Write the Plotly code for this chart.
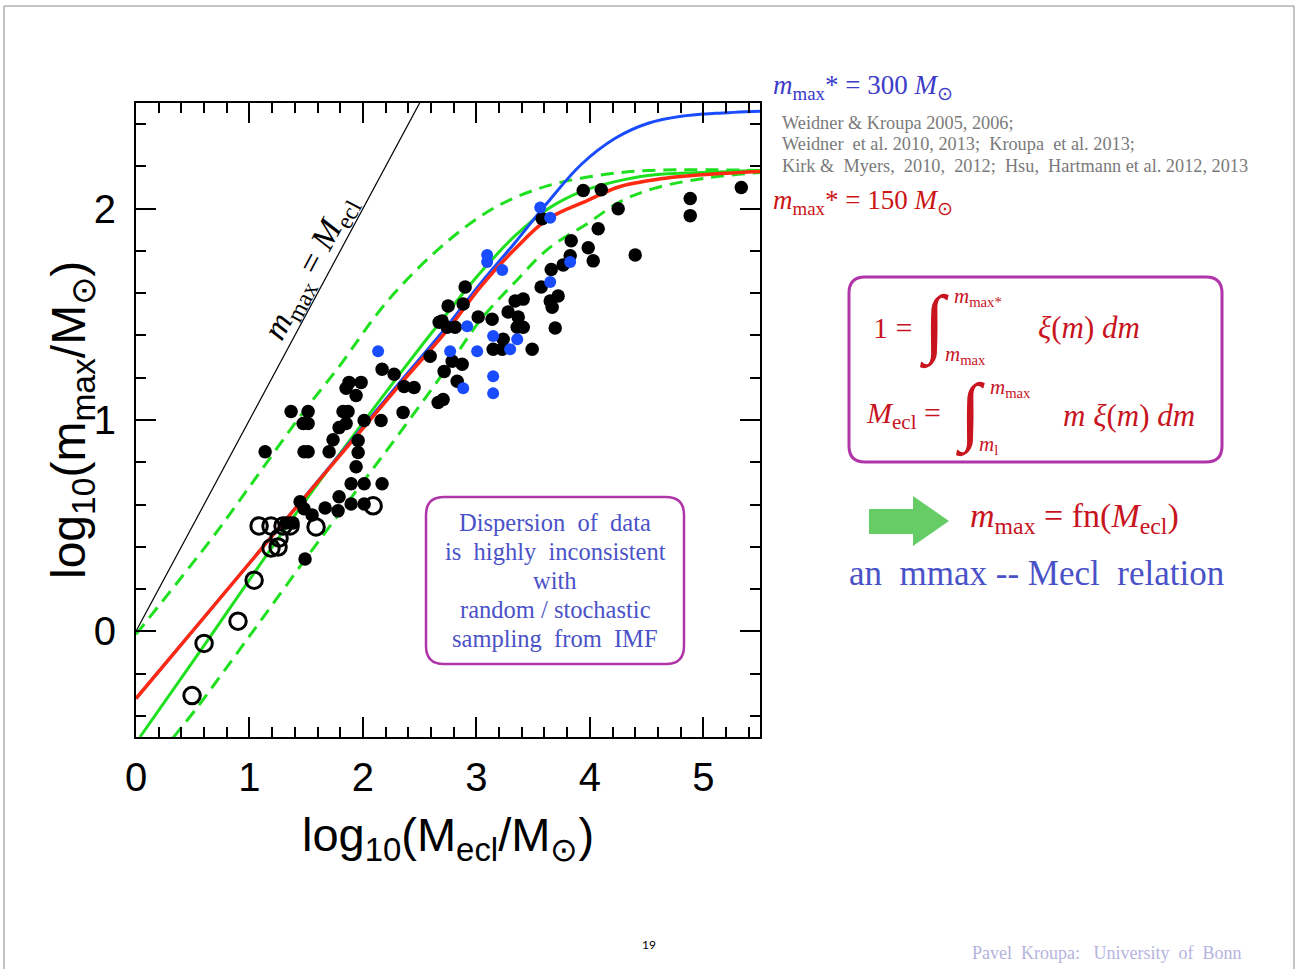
import plotly.graph_objects as go

# ---------------- data ----------------
# filled black points: log10(Mecl), log10(mmax)
black_x = [1.138, 1.367, 1.517, 1.473, 1.517, 1.481, 1.517, 1.702, 1.737, 1.790,
           1.852, 1.825, 1.869, 1.852, 1.878, 1.984, 1.940, 2.011, 2.160, 1.958,
           1.958, 1.940, 1.896, 2.011, 2.169, 1.790, 1.896, 2.011, 1.781, 1.667,
           1.446, 1.481, 1.552, 1.490, 1.384, 1.323, 2.169, 2.275, 2.354, 2.363,
           2.451, 2.663, 2.707, 2.593, 2.751, 2.672, 2.716, 2.831, 2.787, 2.875,
           2.901, 2.884, 2.698, 2.743, 2.813, 3.016, 3.139, 3.148, 3.228, 3.236,
           3.492, 3.342, 3.413, 3.280, 3.369, 3.360, 3.413, 3.571, 3.651, 3.721,
           3.668, 3.695, 3.660, 3.765, 3.827, 3.836, 3.986, 4.030, 4.074, 3.942,
           4.101, 4.250, 4.400, 4.885, 4.885, 5.335, 3.580]
black_y = [0.850, 1.040, 1.040, 0.983, 0.983, 0.850, 0.850, 0.850, 0.907, 0.964,
           0.983, 1.040, 1.040, 1.150, 1.178, 1.178, 1.116, 0.998, 0.998, 0.903,
           0.846, 0.779, 0.698, 0.698, 0.698, 0.637, 0.603, 0.603, 0.570, 0.584,
           0.613, 0.580, 0.551, 0.342, 0.513, 0.513, 1.240, 1.216, 1.036, 1.159,
           1.154, 1.083, 1.097, 1.302, 1.539, 1.463, 1.230, 1.183, 1.278, 1.264,
           1.629, 1.549, 1.468, 1.439, 1.439, 1.487, 1.477, 1.335, 1.335, 1.382,
           1.335, 1.563, 1.572, 1.511, 1.487, 1.439, 1.439, 1.629, 1.563, 1.587,
           1.534, 1.435, 1.712, 1.734, 1.777, 1.848, 1.815, 1.753, 1.905, 2.086,
           2.090, 2.000, 1.781, 2.048, 1.967, 2.100, 1.952]

# filled blue points
blue_x = [2.134, 2.919, 2.769, 3.007, 3.148, 3.360, 3.298, 2.884, 3.148, 3.148,
          3.095, 3.095, 3.228, 3.827, 3.651, 3.563, 3.651]
blue_y = [1.325, 1.444, 1.325, 1.325, 1.397, 1.382, 1.335, 1.150, 1.207, 1.126,
          1.781, 1.748, 1.710, 1.748, 1.653, 2.005, 1.957]

# open circles
open_x = [1.085, 1.190, 1.296, 1.358, 1.190, 1.252, 1.261, 1.587, 2.090, 1.041,
          0.899, 0.600, 0.494]
open_y = [0.499, 0.499, 0.499, 0.499, 0.394, 0.399, 0.442, 0.494, 0.594, 0.242,
          0.048, -0.057, -0.304]

# m_max = M_ecl
ident_x = [0.0, 2.6]
ident_y = [0.0, 2.6]

# model curves (traced)
red_x = [0.0, 0.564, 1.446, 2.328, 2.751, 3.042, 3.342, 3.633, 3.977, 4.268, 4.709, 5.150, 5.5]
red_y = [-0.318, 0.043, 0.608, 1.169, 1.430, 1.634, 1.810, 1.952, 2.038, 2.105, 2.147, 2.166, 2.176]

green_x = [0.035, 0.564, 1.358, 2.302, 2.751, 3.042, 3.342, 3.633, 3.924, 4.224, 4.515, 4.974, 5.5]
green_y = [-0.500, -0.095, 0.518, 1.202, 1.511, 1.701, 1.872, 2.000, 2.081, 2.128, 2.157, 2.171, 2.181]

blue_line_x = [0.0, 0.564, 1.446, 2.328, 2.751, 3.042, 3.342, 3.633, 3.924, 4.224, 4.515, 4.806, 5.106, 5.5]
blue_line_y = [-0.318, 0.043, 0.610, 1.180, 1.450, 1.650, 1.840, 2.033, 2.209, 2.333, 2.404, 2.437, 2.451, 2.461]

upper_dash_x = [0.0, 0.679, 0.917, 1.473, 1.772, 2.231, 2.751, 3.192, 3.633, 4.074, 4.515, 5.5]
upper_dash_y = [-0.014, 0.447, 0.622, 1.036, 1.240, 1.572, 1.848, 2.014, 2.109, 2.157, 2.181, 2.181]

lower_dash_x = [0.326, 0.538, 1.005, 1.508, 1.949, 2.328, 2.751, 3.042, 3.342, 3.633, 3.977, 4.268, 4.559, 5.000, 5.5]
lower_dash_y = [-0.504, -0.361, -0.019, 0.352, 0.670, 0.941, 1.254, 1.477, 1.653, 1.810, 1.929, 2.033, 2.095, 2.143, 2.171]

x_range = [0, 5.5]
y_range = [-0.5, 2.5]

dispersion_lines = ["Dispersion\u00a0 of\u00a0 data", "is\u00a0 highly\u00a0 inconsistent", "with",
                    "random / stochastic", "sampling\u00a0 from\u00a0 IMF"]

# ---------------- layout helpers (pixel -> paper) ----------------
W, H = 1297, 969
L, R, T, B = 136, 760, 103, 737


def X(p):
    return (p - L) / (R - L)


def Y(p):
    return (B - p) / (B - T)


def rounded_rect(x0, y0, x1, y1, r):
    rx = r / (R - L)
    ry = r / (B - T)
    a, b, c, d = X(x0), X(x1), Y(y1), Y(y0)  # left, right, bottom, top
    return (f"M {a+rx},{d} L {b-rx},{d} Q {b},{d} {b},{d-ry} "
            f"L {b},{c+ry} Q {b},{c} {b-rx},{c} L {a+rx},{c} "
            f"Q {a},{c} {a},{c+ry} L {a},{d-ry} Q {a},{d} {a+rx},{d} Z")


RED = "#ff2a12"
GREEN = "#1ee01e"
BLUEL = "#1a4cff"
PURPLE = "#b035a8"
TXTBLUE = "#4a52c8"
EQRED = "#c8141e"
SERIF = "Liberation Serif"
AXFONT = "Liberation Sans"

fig = go.Figure()

fig.add_trace(go.Scatter(x=ident_x, y=ident_y, mode="lines",
                         line=dict(color="black", width=1.2), hoverinfo="skip"))
fig.add_trace(go.Scatter(x=upper_dash_x, y=upper_dash_y, mode="lines", line_shape="spline",
                         line=dict(color=GREEN, width=3, dash="13px,8px"), hoverinfo="skip"))
fig.add_trace(go.Scatter(x=lower_dash_x, y=lower_dash_y, mode="lines", line_shape="spline",
                         line=dict(color=GREEN, width=3, dash="13px,8px"), hoverinfo="skip"))
fig.add_trace(go.Scatter(x=green_x, y=green_y, mode="lines", line_shape="spline",
                         line=dict(color=GREEN, width=3), hoverinfo="skip"))
fig.add_trace(go.Scatter(x=blue_line_x, y=blue_line_y, mode="lines", line_shape="spline",
                         line=dict(color=BLUEL, width=3), hoverinfo="skip"))
fig.add_trace(go.Scatter(x=red_x, y=red_y, mode="lines", line_shape="spline",
                         line=dict(color=RED, width=3.5), hoverinfo="skip"))

fig.add_trace(go.Scatter(x=black_x, y=black_y, mode="markers",
                         marker=dict(color="black", size=13.5, line=dict(width=0))))
fig.add_trace(go.Scatter(x=blue_x, y=blue_y, mode="markers",
                         marker=dict(color=BLUEL, size=12, line=dict(width=0))))
fig.add_trace(go.Scatter(x=open_x, y=open_y, mode="markers",
                         marker=dict(symbol="circle-open", color="black", size=16.5,
                                     line=dict(width=3, color="black"))))

axis_common = dict(showline=True, linecolor="black", linewidth=2, mirror="allticks",
                   ticks="inside", ticklen=20, tickwidth=1.5, tickcolor="black",
                   showgrid=False, zeroline=False, tick0=0, dtick=1,
                   minor=dict(dtick=0.2, ticklen=10, ticks="inside", tickcolor="black",
                              tickwidth=1.5, showgrid=False),
                   tickfont=dict(family=AXFONT, size=40, color="black"))

fig.update_layout(
    width=W, height=H,
    margin=dict(l=L, r=W - R, t=T, b=H - B, pad=0),
    paper_bgcolor="white", plot_bgcolor="white",
    showlegend=False,
    xaxis=dict(range=x_range, ticklabelstandoff=4,
               title=dict(text="log<sub>10</sub>(M<sub>ecl</sub>/M<sub>⊙</sub>)",
                          font=dict(family=AXFONT, size=47, color="black"), standoff=20),
               **axis_common),
    yaxis=dict(range=y_range, ticklabelstandoff=10, **axis_common),
)

shapes = [
    dict(type="rect", xref="paper", yref="paper", x0=X(4), x1=X(1294), y0=Y(990), y1=Y(6),
         line=dict(color="#8a8a8a", width=1), fillcolor="rgba(0,0,0,0)", layer="below"),
    dict(type="path", xref="paper", yref="paper", path=rounded_rect(849, 277, 1222, 462, 16),
         line=dict(color=PURPLE, width=3), fillcolor="rgba(0,0,0,0)"),
    dict(type="path", xref="paper", yref="paper", path=rounded_rect(426, 497, 684, 664, 18),
         line=dict(color=PURPLE, width=2.5), fillcolor="rgba(255,255,255,0)"),
    dict(type="path", xref="paper", yref="paper",
         path=(f"M {X(869)},{Y(509)} L {X(913)},{Y(509)} L {X(913)},{Y(496)} "
               f"L {X(949)},{Y(521)} L {X(913)},{Y(546)} L {X(913)},{Y(534)} "
               f"L {X(869)},{Y(534)} Z"),
         line=dict(width=0), fillcolor="#66cc66"),
]

ann = []


def add(text, x, y, size, color, family=SERIF, xanchor="left", yanchor="middle", angle=0, align="left"):
    ann.append(dict(text=text, x=X(x), y=Y(y), xref="paper", yref="paper", showarrow=False,
                    xanchor=xanchor, yanchor=yanchor, textangle=angle, align=align,
                    font=dict(family=family, size=size, color=color)))


# y-axis title (placed as rotated text left of the tick labels)
add("log<sub>10</sub>(m<sub>max</sub>/M<sub>⊙</sub>)", 72, 420, 48, "black", family=AXFONT,
    xanchor="center", angle=-90)

add("<i>m</i><sub>max</sub> = <i>M</i><sub>ecl</sub>", 311, 268, 34, "black",
    xanchor="center", angle=-62)

add("<i>m</i><sub>max</sub>* = 300 <i>M</i><sub>⊙</sub>", 771, 87, 27, "#3c3cc8")
add("<i>m</i><sub>max</sub>* = 150 <i>M</i><sub>⊙</sub>", 771, 202, 27, "#cc1414")
add("Weidner &amp; Kroupa 2005, 2006;", 780, 123, 18.3, "#7a7a7a")
add("Weidner\u00a0 et al. 2010, 2013;\u00a0 Kroupa\u00a0 et al. 2013;", 780, 144, 18.3, "#7a7a7a")
add("Kirk &amp;\u00a0 Myers,\u00a0 2010,\u00a0 2012;\u00a0 Hsu,\u00a0 Hartmann et al. 2012, 2013",
    780, 166, 18.3, "#7a7a7a")

# equations in the box
add("1 =", 871, 327, 30, EQRED)
add("∫", 935, 324, 76, EQRED, xanchor="center")
add("<i>m</i><sub>max*</sub>", 952, 297, 21, EQRED)
add("<i>m</i><sub>max</sub>", 943, 355, 21, EQRED)
add("<i>ξ</i>(<i>m</i>) <i>dm</i>", 1036, 327, 31, EQRED)

add("<i>M</i><sub>ecl</sub> =", 864, 415, 30, EQRED)
add("∫", 970, 412, 76, EQRED, xanchor="center")
add("<i>m</i><sub>max</sub>", 988, 388, 21, EQRED)
add("<i>m</i><sub>l</sub>", 977, 445, 21, EQRED)
add("<i>m ξ</i>(<i>m</i>) <i>dm</i>", 1061, 415, 31, EQRED)

add("<i>m</i><sub>max</sub> = fn(<i>M</i><sub>ecl</sub>)", 968, 518, 34, EQRED)
add("an\u00a0 mmax -- Mecl\u00a0 relation", 1036, 573, 35, TXTBLUE, xanchor="center")

for i, line in enumerate(dispersion_lines):
    add(line, 555, 522 + 29 * i, 24.5, TXTBLUE, xanchor="center")

add("19", 649, 944, 12, "black", family="Lato", xanchor="center")
add("Pavel\u00a0 Kroupa:\u00a0\u00a0 University\u00a0 of\u00a0 Bonn", 970, 953, 18, "#b4b4de")

fig.update_layout(shapes=shapes, annotations=ann)

fig.write_html("out.html", config={"displayModeBar": False},
               post_script="document.body.style.margin='0';document.body.style.overflow='hidden';")
